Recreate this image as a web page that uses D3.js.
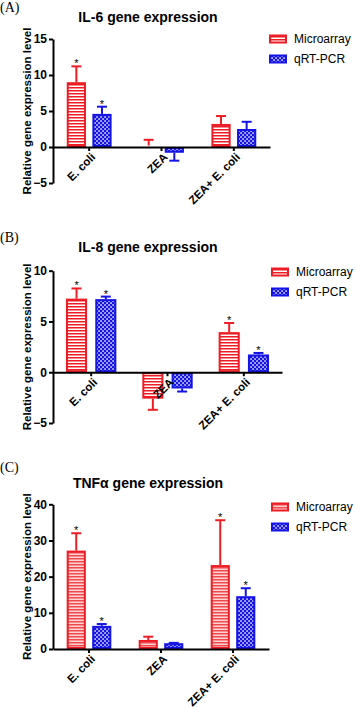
<!DOCTYPE html>
<html>
<head>
<meta charset="utf-8">
<script src="https://cdn.jsdelivr.net/npm/d3@7"></script>
<style>
  body { margin: 0; background: #fff; }
  svg { display: block; font-family: "Liberation Sans", Arial, sans-serif; }
</style>
</head>
<body>
<svg id="chart" width="357" height="708"></svg>
<script>
// data
const categories = ["E. coli", "ZEA", "ZEA+ E. coli"];
const seriesNames = ["Microarray", "qRT-PCR"];

const il6Micro = [9.0, 0.2, 3.2];
const il6MicroSd = [2.2, 0.8, 1.1];
const il6Pcr = [4.6, -0.8, 2.5];
const il6PcrSd = [1.0, 1.1, 1.0];
const il6MicroStar = [1, 0, 0];
const il6PcrStar = [1, 0, 0];
const il6Ticks = [-5, 0, 5, 10, 15];

const il8Micro = [7.25, -2.6, 3.95];
const il8MicroSd = [1.0, 1.1, 0.9];
const il8Pcr = [7.2, -1.6, 1.75];
const il8PcrSd = [0.25, 0.3, 0.15];
const il8MicroStar = [1, 0, 1];
const il8PcrStar = [1, 0, 1];
const il8Ticks = [-5, 0, 5, 10];

const tnfMicro = [27.2, 2.5, 23.2];
const tnfMicroSd = [4.8, 0.9, 12.4];
const tnfPcr = [6.4, 1.6, 14.6];
const tnfPcrSd = [0.5, 0.1, 2.2];
const tnfMicroStar = [1, 0, 1];
const tnfPcrStar = [1, 0, 1];
const tnfTicks = [0, 10, 20, 30, 40];

const red = "#ee1c24";
const blue = "#1414e6";

let svg = d3.select("svg#chart");
let defs = svg.append("defs");

// horizontal stripes for microarray bars
function stripePattern(id, bg, line) {
    let p = defs.append("pattern")
        .attr("id", id)
        .attr("patternUnits", "userSpaceOnUse")
        .attr("width", 6)
        .attr("height", 3);
    p.append("rect").attr("width", 6).attr("height", 3).attr("fill", bg);
    p.append("rect").attr("y", 0).attr("width", 6).attr("height", 1.5).attr("fill", line);
}
stripePattern("stripes", "#fff", red);
stripePattern("stripesLight", "#fbd3d3", "#f04a4f");

// white dots on blue for qRT-PCR bars
let dots = defs.append("pattern")
    .attr("id", "dots")
    .attr("patternUnits", "userSpaceOnUse")
    .attr("width", 4)
    .attr("height", 4);
dots.append("rect").attr("width", 4).attr("height", 4).attr("fill", blue);
dots.append("rect").attr("x", 0.3).attr("y", 0.3).attr("width", 1.5).attr("height", 1.5).attr("fill", "#fff");
dots.append("rect").attr("x", 2.3).attr("y", 2.3).attr("width", 1.5).attr("height", 1.5).attr("fill", "#fff");

const panels = [
    { label: "(A)", labelY: 12, title: "IL-6 gene expression", titleY: 22, top: 39, bottom: 183, right: 270,
      domain: [-5, 15], ticks: il6Ticks, micro: il6Micro, microSd: il6MicroSd, pcr: il6Pcr, pcrSd: il6PcrSd,
      microStar: il6MicroStar, pcrStar: il6PcrStar, pad: 0.38, inner: 0.25, stripe: "stripes",
      legendY: 39, legendX: 269 },
    { label: "(B)", labelY: 242, title: "IL-8 gene expression", titleY: 251.5, top: 270.7, bottom: 423, right: 282,
      domain: [-5, 10], ticks: il8Ticks, micro: il8Micro, microSd: il8MicroSd, pcr: il8Pcr, pcrSd: il8PcrSd,
      microStar: il8MicroStar, pcrStar: il8PcrStar, pad: 0.34, inner: 0.28, stripe: "stripes",
      legendY: 272, legendX: 271 },
    { label: "(C)", labelY: 472, title: "TNF\u03b1 gene expression", titleY: 487.5, top: 504.3, bottom: 649, right: 269,
      domain: [0, 40], ticks: tnfTicks, micro: tnfMicro, microSd: tnfMicroSd, pcr: tnfPcr, pcrSd: tnfPcrSd,
      microStar: tnfMicroStar, pcrStar: tnfPcrStar, pad: 0.38, inner: 0.25, stripe: "stripesLight",
      legendY: 507, legendX: 271 }
];

function drawPanel(cfg) {
    const left = 53;
    let g = svg.append("g");

    let y = d3.scaleLinear().domain(cfg.domain).range([cfg.bottom, cfg.top]);
    let x0 = d3.scaleBand().domain(categories).range([left, cfg.right])
        .paddingInner(cfg.pad).paddingOuter(cfg.pad / 2);
    let x1 = d3.scaleBand().domain(seriesNames).range([0, x0.bandwidth()])
        .paddingInner(cfg.inner);

    // panel letter + title
    g.append("text")
        .attr("x", 0)
        .attr("y", cfg.labelY)
        .style("font-family", "'Liberation Serif', 'Times New Roman', serif")
        .style("font-size", "14px")
        .text(cfg.label);
    g.append("text")
        .attr("x", 148)
        .attr("y", cfg.titleY)
        .attr("text-anchor", "middle")
        .style("font-size", "14px")
        .style("font-weight", "bold")
        .text(cfg.title);

    // y title
    g.append("text")
        .attr("transform", `translate(31,${(cfg.top + cfg.bottom) / 2}) rotate(-90)`)
        .attr("text-anchor", "middle")
        .style("font-size", "11.5px")
        .style("font-weight", "bold")
        .text("Relative gene expression level");

    let rows = categories.map((c, i) => [
        { cat: c, key: seriesNames[0], v: cfg.micro[i], sd: cfg.microSd[i], star: cfg.microStar[i] },
        { cat: c, key: seriesNames[1], v: cfg.pcr[i], sd: cfg.pcrSd[i], star: cfg.pcrStar[i] }
    ]).flat();

    let bars = g.append("g");
    let bx = (d) => x0(d.cat) + x1(d.key);
    let fillOf = (d) => d.key === seriesNames[0] ? `url(#${cfg.stripe})` : "url(#dots)";
    let colorOf = (d) => d.key === seriesNames[0] ? red : blue;
    let tipOf = (d) => d.v >= 0 ? d.v + d.sd : d.v - d.sd;

    // error bars
    bars.selectAll("line.err")
        .data(rows)
        .join("line")
        .attr("class", "err")
        .attr("x1", (d) => bx(d) + x1.bandwidth() / 2)
        .attr("x2", (d) => bx(d) + x1.bandwidth() / 2)
        .attr("y1", (d) => y(d.v))
        .attr("y2", (d) => y(tipOf(d)))
        .attr("stroke", colorOf)
        .attr("stroke-width", 2);
    bars.selectAll("line.cap")
        .data(rows)
        .join("line")
        .attr("class", "cap")
        .attr("x1", (d) => bx(d) + x1.bandwidth() / 2 - 5)
        .attr("x2", (d) => bx(d) + x1.bandwidth() / 2 + 5)
        .attr("y1", (d) => y(tipOf(d)))
        .attr("y2", (d) => y(tipOf(d)))
        .attr("stroke", colorOf)
        .attr("stroke-width", 2);

    bars.selectAll("rect")
        .data(rows)
        .join("rect")
        .attr("x", (d) => bx(d) + 1)
        .attr("width", x1.bandwidth() - 2)
        .attr("y", (d) => y(Math.max(0, d.v)) + 1)
        .attr("height", (d) => Math.max(0, Math.abs(y(d.v) - y(0)) - 2))
        .attr("fill", fillOf)
        .attr("stroke", colorOf)
        .attr("stroke-width", 2);

    // significance marks
    bars.selectAll("text.star")
        .data(rows.filter((d) => d.star))
        .join("text")
        .attr("class", "star")
        .attr("x", (d) => bx(d) + x1.bandwidth() / 2)
        .attr("y", (d) => y(tipOf(d)) + 1)
        .attr("text-anchor", "middle")
        .style("font-size", "11px")
        .text("*");

    // y axis
    let yAxis = g.append("g")
        .attr("transform", `translate(${left},0)`)
        .call(d3.axisLeft(y).tickValues(cfg.ticks).tickSize(4).tickSizeOuter(0).tickPadding(2));
    yAxis.select(".domain").attr("stroke-width", 2);
    yAxis.selectAll(".tick line").attr("stroke-width", 2);
    yAxis.selectAll("text")
        .style("font-size", "12px")
        .style("font-weight", "bold")
        .style("font-family", "'Liberation Sans', Arial, sans-serif");

    // category axis along zero
    let xAxis = g.append("g")
        .attr("transform", `translate(0,${y(0)})`)
        .call(d3.axisBottom(x0).tickSize(4).tickSizeOuter(0));
    xAxis.select(".domain").attr("stroke-width", 2);
    xAxis.selectAll(".tick line").attr("stroke-width", 2);
    xAxis.selectAll("text")
        .attr("x", 0)
        .attr("y", 0)
        .attr("dy", "0.35em")
        .attr("text-anchor", "end")
        .attr("transform", "translate(4,8) rotate(-45)")
        .style("font-size", "11.5px")
        .style("font-weight", "bold")
        .style("font-family", "'Liberation Sans', Arial, sans-serif");

    // legend
    let legend = g.append("g")
        .attr("transform", `translate(${cfg.legendX},${cfg.legendY})`);
    seriesNames.forEach((s, i) => {
        legend.append("rect")
            .attr("x", 1)
            .attr("y", i * 20 - 3.5)
            .attr("width", 16)
            .attr("height", 7)
            .attr("fill", i === 0 ? `url(#${cfg.stripe})` : "url(#dots)")
            .attr("stroke", i === 0 ? red : blue)
            .attr("stroke-width", 2);
        legend.append("text")
            .attr("x", 25)
            .attr("y", i * 20)
            .attr("dy", "0.35em")
            .style("font-size", "12px")
            .text(s);
    });
}

panels.forEach(drawPanel);
</script>
</body>
</html>
